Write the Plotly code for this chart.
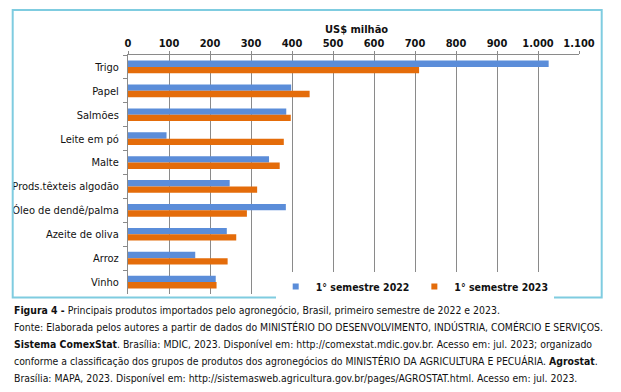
import plotly.graph_objects as go

categories = ["Trigo", "Papel", "Salmões", "Leite em pó", "Malte",
              "Prods.têxteis algodão", "Óleo de dendê/palma", "Azeite de oliva",
              "Arroz", "Vinho"]
s2022 = [1026, 398, 386, 94, 344, 248, 385, 241, 164, 214]
s2023 = [710, 443, 397, 380, 370, 315, 290, 264, 243, 216]
series_names = ["1° semestre 2022", "1° semestre 2023"]
tick_vals = [0, 100, 200, 300, 400, 500, 600, 700, 800, 900, 1000, 1100]
tick_text = ["0", "100", "200", "300", "400", "500", "600", "700", "800", "900", "1.000", "1.100"]
axis_title = "US$ milhão"
caption_lines = [
    "<b>Figura 4 -</b> Principais produtos importados pelo agronegócio, Brasil, primeiro semestre de 2022 e 2023.",
    "Fonte: Elaborada pelos autores a partir de dados do MINISTÉRIO DO DESENVOLVIMENTO, INDÚSTRIA, COMÉRCIO E SERVIÇOS.",
    "<b>Sistema ComexStat</b>. Brasília: MDIC, 2023. Disponível em: http://comexstat.mdic.gov.br. Acesso em: jul. 2023; organizado",
    "conforme a classificação dos grupos de produtos dos agronegócios do MINISTÉRIO DA AGRICULTURA E PECUÁRIA. <b>Agrostat</b>.",
    "Brasília: MAPA, 2023. Disponível em: http://sistemasweb.agricultura.gov.br/pages/AGROSTAT.html. Acesso em: jul. 2023.",
]

BLUE = "#5B8DD9"
ORANGE = "#E46C0A"
FONT = "DejaVu Sans Condensed, DejaVu Sans, sans-serif"

W, H = 621, 392
L, R, T, B = 128.3, 579.3, 55, 294


def px(x):
    return (x - L) / (R - L)


def py(y):
    return (B - y) / (B - T)


fig = go.Figure()
fig.add_trace(go.Bar(y=categories, x=s2022, orientation="h", name=series_names[0],
                     marker=dict(color=BLUE, line=dict(width=0)), showlegend=False))
fig.add_trace(go.Bar(y=categories, x=s2023, orientation="h", name=series_names[1],
                     marker=dict(color=ORANGE, line=dict(width=0)), showlegend=False))
for name, col in zip(series_names, [BLUE, ORANGE]):
    fig.add_trace(go.Scatter(x=[None], y=[None], mode="markers", name=name,
                             marker=dict(symbol="square", size=6, color=col)))

fig.update_layout(
    width=W, height=H,
    margin=dict(l=L, r=W - R, t=T, b=H - B, pad=0),
    paper_bgcolor="white", plot_bgcolor="white",
    barmode="group", bargap=0.47, bargroupgap=0,
    font=dict(family=FONT, size=11, color="#111"),
    showlegend=True,
    legend=dict(orientation="h", x=px(276), y=py(272), xanchor="left", yanchor="top",
                bgcolor="white", font=dict(size=10.5, family=FONT, color="#111", weight="bold"),
                itemwidth=30, tracegroupgap=0, borderwidth=0),
    xaxis=dict(side="top", range=[0, 1100], tickvals=tick_vals, ticktext=tick_text,
               showgrid=True, gridcolor="#8a8a8a", gridwidth=1,
               showline=True, linecolor="#8a8a8a", linewidth=1,
               ticks="outside", ticklen=3, tickcolor="#8a8a8a",
               tickfont=dict(family=FONT, size=11, color="#111", weight="bold"),
               zeroline=False, fixedrange=True),
    yaxis=dict(autorange="reversed", type="category",
               showline=True, linecolor="#8a8a8a", linewidth=1,
               ticks="outside", ticklen=4, tickcolor="#8a8a8a", tickson="boundaries",
               showgrid=False, tickfont=dict(family=FONT, size=11, color="#111"),
               ticklabelstandoff=6, fixedrange=True),
)

# Axis title
fig.add_annotation(text="<b>" + axis_title + "</b>", xref="paper", yref="paper",
                   x=px(357), y=py(21), showarrow=False,
                   font=dict(family=FONT, size=11, color="#111"))

# Outer chart border
fig.add_shape(type="rect", xref="paper", yref="paper",
              x0=px(13), x1=px(602), y0=py(10), y1=py(297.5),
              line=dict(color="#7FCCE0", width=2), fillcolor="rgba(0,0,0,0)", layer="above")

# Caption
ys = [310, 327, 344, 361, 378]
for line, yy in zip(caption_lines, ys):
    fig.add_annotation(text=line, xref="paper", yref="paper", x=px(12), y=py(yy),
                       xanchor="left", yanchor="middle", showarrow=False, align="left",
                       font=dict(family=FONT, size=10.4, color="#111"))

fig.write_html("out.html", config={"displayModeBar": False},
               post_script="document.body.style.margin='0';document.body.style.padding='0';")
